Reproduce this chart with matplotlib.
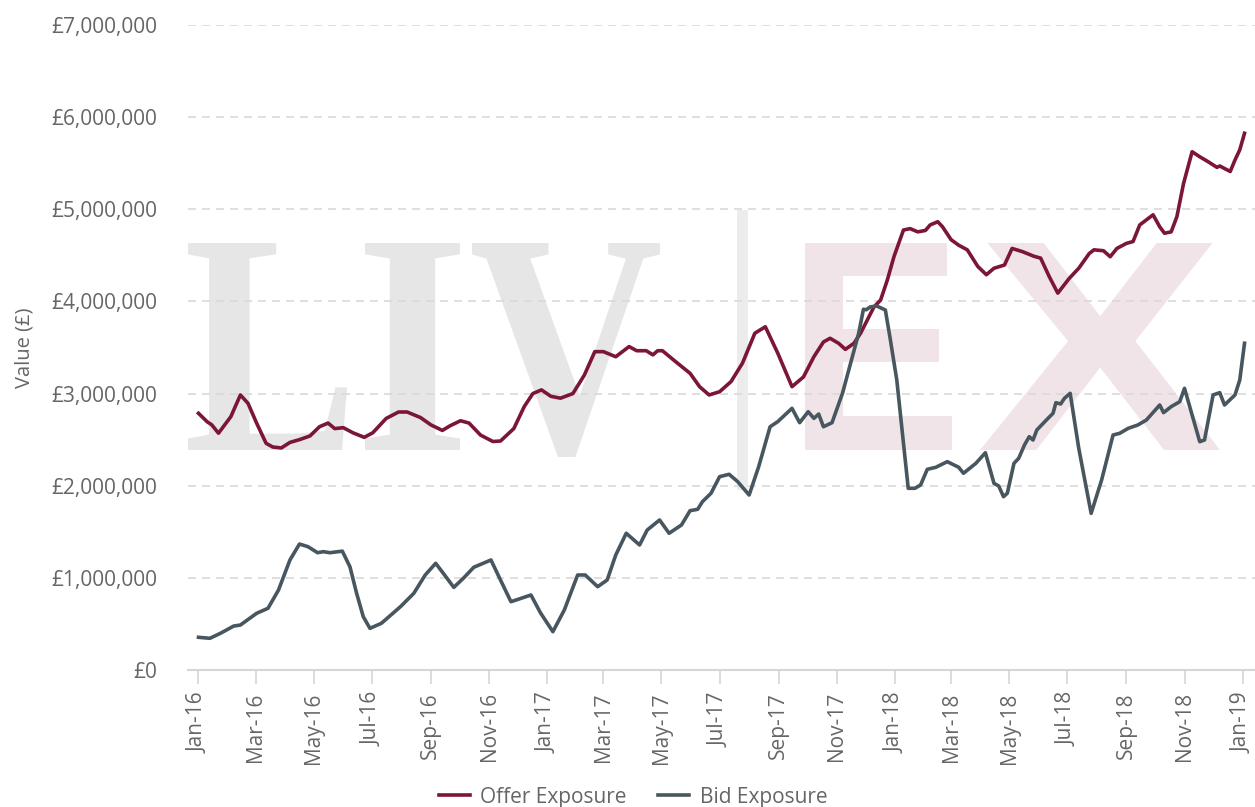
import pandas as pd
import matplotlib
matplotlib.use("Agg")
import matplotlib.pyplot as plt
import matplotlib.dates as mdates
from matplotlib.ticker import FuncFormatter, MultipleLocator
from matplotlib.textpath import TextPath
from matplotlib.patches import PathPatch, Rectangle
from matplotlib.font_manager import FontProperties
from matplotlib.transforms import Affine2D

plt.rcParams['font.family'] = ['Open Sans', 'DejaVu Sans']

# values (GBP)
offer_dates = ['2016-01-01', '2016-01-10', '2016-01-15', '2016-01-22', '2016-02-04', '2016-02-14',
               '2016-02-22', '2016-03-02', '2016-03-12', '2016-03-19', '2016-03-28', '2016-04-06',
               '2016-04-16', '2016-04-27', '2016-05-07', '2016-05-16', '2016-05-23', '2016-06-01',
               '2016-06-11', '2016-06-23', '2016-07-02', '2016-07-16', '2016-07-29', '2016-08-07',
               '2016-08-21', '2016-09-01', '2016-09-13', '2016-09-21', '2016-10-02', '2016-10-11',
               '2016-10-23', '2016-11-05', '2016-11-13', '2016-11-27', '2016-12-08', '2016-12-17',
               '2016-12-26', '2017-01-05', '2017-01-15', '2017-01-28', '2017-02-09', '2017-02-20',
               '2017-03-01', '2017-03-14', '2017-03-28', '2017-04-05', '2017-04-15', '2017-04-22',
               '2017-04-27', '2017-05-02', '2017-05-16', '2017-05-31', '2017-06-10', '2017-06-20',
               '2017-07-01', '2017-07-13', '2017-07-25', '2017-08-07', '2017-08-18', '2017-08-31',
               '2017-09-15', '2017-09-27', '2017-10-08', '2017-10-18', '2017-10-25', '2017-11-03',
               '2017-11-10', '2017-11-19', '2017-11-26', '2017-12-10', '2017-12-17', '2017-12-24',
               '2017-12-31', '2018-01-10', '2018-01-17', '2018-01-25', '2018-02-02', '2018-02-07',
               '2018-02-15', '2018-02-20', '2018-03-01', '2018-03-09', '2018-03-18', '2018-03-29',
               '2018-04-07', '2018-04-15', '2018-04-26', '2018-05-04', '2018-05-15', '2018-05-27',
               '2018-06-03', '2018-06-12', '2018-06-21', '2018-07-03', '2018-07-13', '2018-07-24',
               '2018-07-29', '2018-08-08', '2018-08-15', '2018-08-22', '2018-09-01', '2018-09-08',
               '2018-09-15', '2018-09-22', '2018-09-29', '2018-10-06', '2018-10-11', '2018-10-18',
               '2018-10-24', '2018-10-31', '2018-11-09', '2018-11-17', '2018-11-26', '2018-12-05',
               '2018-12-08', '2018-12-19', '2018-12-24', '2018-12-29', '2019-01-03']
offer_values = [2786000, 2695000, 2660000, 2570000, 2750000, 2985000,
                2894000, 2680000, 2460000, 2420000, 2410000, 2470000,
                2500000, 2540000, 2640000, 2680000, 2620000, 2630000,
                2575000, 2525000, 2575000, 2730000, 2800000, 2800000,
                2740000, 2660000, 2600000, 2650000, 2705000, 2680000,
                2550000, 2480000, 2485000, 2620000, 2860000, 3000000,
                3040000, 2970000, 2950000, 3000000, 3200000, 3455000,
                3455000, 3400000, 3510000, 3465000, 3465000, 3420000,
                3465000, 3465000, 3345000, 3220000, 3075000, 2985000,
                3020000, 3130000, 3330000, 3655000, 3725000, 3440000,
                3075000, 3180000, 3400000, 3560000, 3600000, 3545000,
                3480000, 3545000, 3655000, 3940000, 4015000, 4230000,
                4485000, 4775000, 4790000, 4755000, 4770000, 4830000,
                4865000, 4810000, 4670000, 4610000, 4560000, 4380000,
                4290000, 4360000, 4395000, 4575000, 4540000, 4490000,
                4470000, 4270000, 4090000, 4250000, 4360000, 4520000,
                4560000, 4550000, 4485000, 4575000, 4630000, 4650000,
                4830000, 4885000, 4940000, 4810000, 4740000, 4755000,
                4920000, 5280000, 5625000, 5570000, 5515000, 5455000,
                5470000, 5410000, 5535000, 5645000, 5825000]

bid_dates = ['2016-01-01', '2016-01-13', '2016-01-24', '2016-02-07', '2016-02-14', '2016-03-02',
             '2016-03-14', '2016-03-25', '2016-04-06', '2016-04-16', '2016-04-25', '2016-05-05',
             '2016-05-11', '2016-05-18', '2016-05-31', '2016-06-08', '2016-06-15', '2016-06-22',
             '2016-06-29', '2016-07-11', '2016-07-31', '2016-08-14', '2016-08-26', '2016-09-06',
             '2016-09-14', '2016-09-25', '2016-10-05', '2016-10-16', '2016-11-03', '2016-11-13',
             '2016-11-24', '2016-12-15', '2016-12-25', '2017-01-07', '2017-01-19', '2017-02-02',
             '2017-02-10', '2017-02-23', '2017-03-05', '2017-03-14', '2017-03-25', '2017-04-08',
             '2017-04-16', '2017-04-29', '2017-05-09', '2017-05-22', '2017-05-31', '2017-06-08',
             '2017-06-13', '2017-06-22', '2017-07-01', '2017-07-11', '2017-07-20', '2017-08-01',
             '2017-08-11', '2017-08-23', '2017-08-31', '2017-09-15', '2017-09-23', '2017-10-02',
             '2017-10-08', '2017-10-13', '2017-10-18', '2017-10-27', '2017-11-07', '2017-11-15',
             '2017-11-24', '2017-11-29', '2017-12-02', '2017-12-06', '2017-12-13', '2017-12-22',
             '2017-12-27', '2018-01-03', '2018-01-15', '2018-01-22', '2018-01-28', '2018-02-04',
             '2018-02-13', '2018-02-25', '2018-03-09', '2018-03-14', '2018-03-27', '2018-04-06',
             '2018-04-15', '2018-04-20', '2018-04-25', '2018-04-29', '2018-05-06', '2018-05-11',
             '2018-05-17', '2018-05-22', '2018-05-26', '2018-05-30', '2018-06-09', '2018-06-16',
             '2018-06-19', '2018-06-24', '2018-06-28', '2018-07-04', '2018-07-13', '2018-07-26',
             '2018-08-06', '2018-08-18', '2018-08-25', '2018-09-03', '2018-09-13', '2018-09-22',
             '2018-10-06', '2018-10-10', '2018-10-18', '2018-10-27', '2018-11-01', '2018-11-09',
             '2018-11-17', '2018-11-22', '2018-12-01', '2018-12-08', '2018-12-13', '2018-12-24',
             '2018-12-29', '2019-01-03']
bid_values = [355000, 344000, 398000, 477000, 488000, 615000,
              670000, 868000, 1194000, 1367000, 1338000, 1273000,
              1284000, 1273000, 1290000, 1120000, 832000, 578000,
              452000, 507000, 687000, 832000, 1031000, 1158000,
              1049000, 897000, 995000, 1115000, 1194000, 977000,
              741000, 814000, 620000, 416000, 651000, 1031000,
              1031000, 904000, 977000, 1248000, 1484000, 1357000,
              1519000, 1628000, 1484000, 1574000, 1729000, 1744000,
              1827000, 1918000, 2098000, 2124000, 2044000, 1899000,
              2206000, 2640000, 2695000, 2840000, 2684000, 2803000,
              2731000, 2778000, 2640000, 2684000, 3003000, 3310000,
              3655000, 3915000, 3910000, 3940000, 3950000, 3907000,
              3600000, 3147000, 1972000, 1972000, 2008000, 2178000,
              2200000, 2261000, 2200000, 2135000, 2243000, 2358000,
              2026000, 1997000, 1881000, 1918000, 2243000, 2298000,
              2442000, 2532000, 2496000, 2605000, 2713000, 2786000,
              2901000, 2887000, 2949000, 3003000, 2406000, 1700000,
              2062000, 2550000, 2569000, 2623000, 2659000, 2713000,
              2876000, 2793000, 2858000, 2912000, 3057000, 2767000,
              2478000, 2496000, 2985000, 3010000, 2876000, 2985000,
              3147000, 3546000]

W, H = 1255, 807
fig = plt.figure(figsize=(W / 100, H / 100), dpi=100)
ax = fig.add_axes([188 / W, 1 - 670 / H, (W - 188) / W, (670 - 25) / H])

grey = '#666666'


def stamp(ch, prop, box, color):
    # fit a glyph into a pixel box of the picture (x0, top, x1, bottom)
    x0, top, x1, bottom = box
    tp = TextPath((0, 0), ch, size=100, prop=prop)
    ext = tp.get_extents()
    tr = (Affine2D().translate(-ext.x0, -ext.y0)
          .scale((x1 - x0) / ext.width / W, (bottom - top) / ext.height / H)
          .translate(x0 / W, 1 - bottom / H))
    ax.add_artist(PathPatch(tr.transform_path(tp), fc=color, ec='none',
                            transform=fig.transFigure, zorder=0.2))


serif = FontProperties(family='Liberation Serif', weight='bold')
sans = FontProperties(family='Liberation Sans', weight='bold')
stamp('L', serif, (187, 243, 347, 450), '#e6e6e6')
stamp('I', serif, (365, 243, 460, 450), '#e6e6e6')
stamp('V', serif, (472, 243, 660, 457), '#e6e6e6')
ax.add_artist(Rectangle((737 / W, 1 - 490 / H), 11 / W, 280 / H, fc='#ececec', ec='none',
                        transform=fig.transFigure, zorder=0.2))
stamp('E', sans, (805, 243, 952, 450), '#f1e4e8')
stamp('X', sans, (980, 243, 1220, 450), '#f1e4e8')

od = pd.to_datetime(offer_dates)
bd = pd.to_datetime(bid_dates)
ax.plot(od, offer_values, color='#7c1636', lw=2.6, solid_joinstyle='round', label='Offer Exposure', zorder=3)
ax.plot(bd, bid_values, color='#48565f', lw=2.6, solid_joinstyle='round', label='Bid Exposure', zorder=3)

ax.set_ylim(0, 7000000)
ax.set_xlim(pd.Timestamp('2015-12-21'), pd.Timestamp('2019-01-14'))
ax.yaxis.set_major_locator(MultipleLocator(1000000))
ax.yaxis.set_major_formatter(FuncFormatter(lambda v, p: f'£{v:,.0f}'))
ax.xaxis.set_major_locator(mdates.MonthLocator(bymonth=[1, 3, 5, 7, 9, 11]))
ax.xaxis.set_major_formatter(mdates.DateFormatter('%b-%y'))

ax.grid(axis='y', color='#d9d9d9', lw=1.2, ls=(0, (4.8, 3.6)))
ax.set_axisbelow(True)
for s in ['top', 'right', 'left']:
    ax.spines[s].set_visible(False)
ax.spines['bottom'].set_color('#d6d6d6')
ax.spines['bottom'].set_linewidth(1.5)
ax.spines['bottom'].set_zorder(2.5)

ax.tick_params(axis='y', length=0, pad=22, labelsize=15, labelcolor=grey)
ax.tick_params(axis='x', length=10, width=1.2, color='#d6d6d6', pad=6,
               labelsize=15, labelcolor=grey, labelrotation=90)
ax.set_ylabel('Value (£)', fontsize=14.5, color=grey, labelpad=12)

fig.legend(loc='center', bbox_to_anchor=(633 / W, 1 - 797 / H), ncol=2, frameon=False,
           fontsize=15, labelcolor=grey, handlelength=1.5, handletextpad=0.5,
           columnspacing=1.5)

fig.savefig('out.png', dpi=100)
